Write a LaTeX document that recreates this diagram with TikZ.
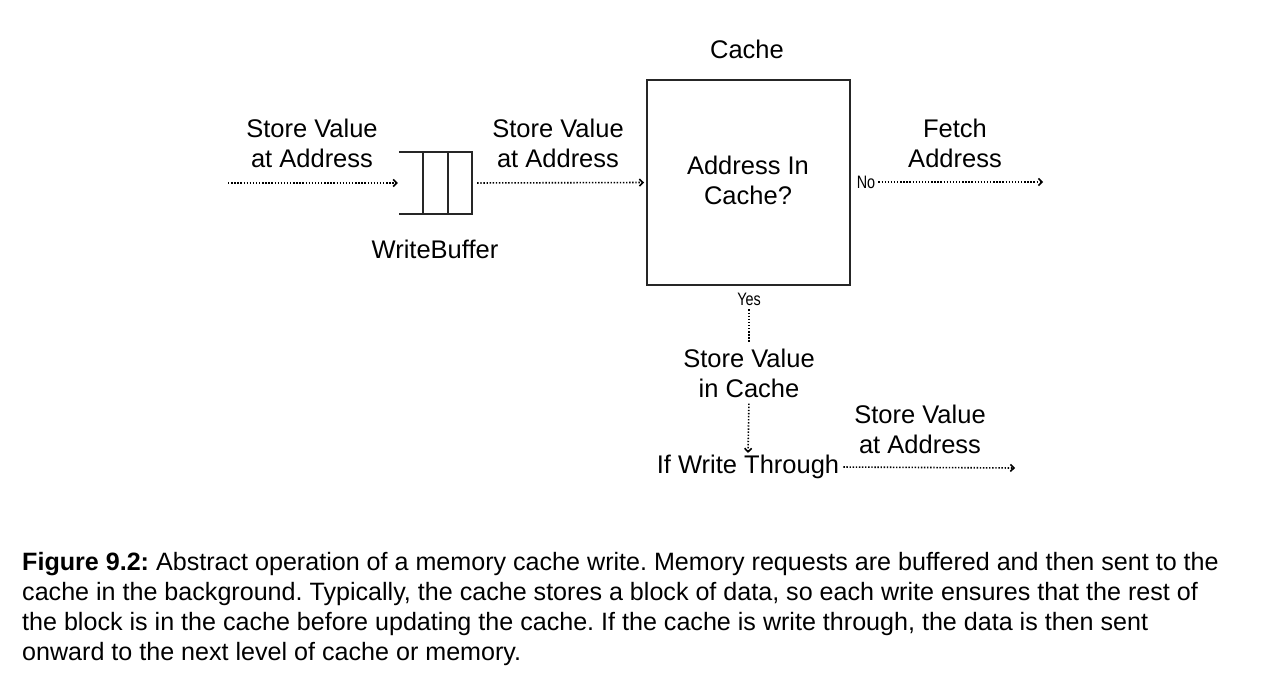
\documentclass[tikz,border=0pt]{standalone}
\usepackage{fontspec}
\setmainfont{Liberation Sans}
\usetikzlibrary{arrows.meta}
\begin{document}
\frenchspacing
\begin{tikzpicture}[x=1pt,y=-1pt,
  lbl/.style={inner sep=0pt,align=center,font=\fontsize{25.5}{30}\selectfont},
  small/.style={inner sep=0pt,font=\fontsize{18}{20}\selectfont},
  dotline/.style={line width=1.6pt,dash pattern=on 1.4pt off 1.7pt,black},
  dotarrow/.style={dotline,-{Straight Barb[length=3.5pt,width=7pt,line width=1.6pt]}},
  boxline/.style={line width=2pt,black!85}]
\useasboundingbox (0,0) rectangle (1265,687);
% cache
\node[lbl] (title) at (747,49) {Cache};
\node[draw,boxline,rectangle,minimum width=203pt,minimum height=205pt,inner sep=0pt] (cache) at (748.5,182.5) {};
\node[lbl] (q) at (748,180) {Address In\\Cache?};
% write buffer
\node[minimum width=73pt,minimum height=61pt,inner sep=0pt] (buf) at (435.5,183) {};
\draw[boxline] (buf.north west) -- (buf.north east) -- (buf.south east) -- (buf.south west);
\draw[boxline] ([xshift=24pt]buf.north west) -- ([xshift=24pt]buf.south west);
\draw[boxline] ([xshift=49pt]buf.north west) -- ([xshift=49pt]buf.south west);
\node[lbl] (wb) at (435,249) {WriteBuffer};
% labels
\node[lbl] (l1) at (312,143) {Store Value\\at Address};
\node[lbl] (l2) at (558,143) {Store Value\\at Address};
\node[lbl] (l3) at (955,143) {Fetch\\Address};
\node[lbl] (l4) at (920,429) {Store Value\\at Address};
% arrows left
\coordinate (in) at (228,183);
\draw[dotarrow,shorten >=1pt] (in) -- (buf.west);
\draw[dotarrow,shorten <=5pt,shorten >=2pt] (buf.east) -- (cache.west);
% No
\node[small] (no) at (866,182) {\scalebox{0.8}[1]{No}};
\coordinate (out1) at (1043,182);
\draw[dotarrow,shorten <=3pt] (no.east) -- (out1);
% Yes
\node[small] (yes) at (749,299) {\scalebox{0.8}[1]{Yes}};
\node[lbl] (svc) at (749,373) {Store Value\\in Cache};
\draw[dotline,shorten <=4pt,shorten >=6pt] (yes.south) -- (svc.north);
\node[lbl] (wt) at (748,467) {If Write Through};
\draw[dotarrow,shorten <=6pt,shorten >=2pt] (svc.south) -- (wt.north);
\coordinate (out2) at (1015,468);
\draw[dotarrow,shorten <=4pt] (wt.east) -- (out2);
% caption
\node[anchor=north west,inner sep=0pt,align=left,font=\fontsize{25.1}{30}\selectfont] (cap) at (22,552) {%
\textbf{Figure 9.2:} Abstract operation of a memory cache write. Memory requests are buffered and then sent to the\\
cache in the background. Typically, the cache stores a block of data, so each write ensures that the rest of\\
the block is in the cache before updating the cache. If the cache is write through, the data is then sent\\
onward to the next level of cache or memory.};
\end{tikzpicture}
\end{document}
